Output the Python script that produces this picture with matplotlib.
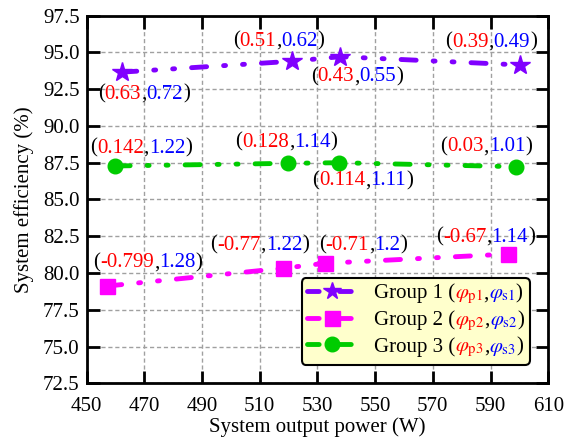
import matplotlib
matplotlib.use('Agg')
import numpy as np
import matplotlib.pyplot as plt
from matplotlib.lines import Line2D
from matplotlib.offsetbox import TextArea, HPacker, AnnotationBbox

plt.rcParams['font.family'] = ['Liberation Serif', 'DejaVu Serif']
plt.rcParams['mathtext.fontset'] = 'stix'

# ---------------- data ----------------
x_g1 = [462.2, 521.1, 537.8, 600.2]
y_g1 = [93.66, 94.40, 94.71, 94.15]
x_g2 = [457.0, 518.0, 532.6, 596.2]
y_g2 = [79.11, 80.32, 80.66, 81.29]
x_g3 = [459.9, 519.9, 537.6, 598.8]
y_g3 = [87.28, 87.46, 87.50, 87.23]

phi_p_g1 = ['0.63', '0.51', '0.43', '0.39']
phi_s_g1 = ['0.72', '0.62', '0.55', '0.49']
phi_p_g2 = ['-0.799', '-0.77', '-0.71', '-0.67']
phi_s_g2 = ['1.28', '1.22', '1.2', '1.14']
phi_p_g3 = ['0.142', '0.128', '0.114', '0.03']
phi_s_g3 = ['1.22', '1.14', '1.11', '1.01']

group_ids = ['1', '2', '3']
x_ticks = [450, 470, 490, 510, 530, 550, 570, 590, 610]
y_ticks = [72.5, 75.0, 77.5, 80.0, 82.5, 85.0, 87.5, 90.0, 92.5, 95.0, 97.5]

# label offsets (pixels) for annotations
off_g1 = [(22, -22), (-13, 20), (17, -20), (-29, 23)]
off_g2 = [(41, 23.5), (-23, 23), (38, 18), (-23, 17)]
off_g3 = [(26, 18), (-2, 21), (23, -18), (-30, 20)]

# ---------------- style ----------------
FS = 15
C1, C2, C3 = '#8000FF', '#FF00FF', '#00CC00'
RED, BLUE = '#FF0000', '#0000FF'
LW = 3.5
DASH = [3.1, 3.5, 0.4, 3.5, 0.4, 3.5]

fig = plt.figure(figsize=(5.79, 4.43), dpi=100)
ax = fig.add_axes([0.1494, 0.1348, 0.7976, 0.8298])

series = [
    (x_g1, y_g1, C1, '*', 15),
    (x_g2, y_g2, C2, 's', 10.8),
    (x_g3, y_g3, C3, 'o', 10.5),
]
for xs, ys, c, m, ms in series:
    ax.plot(xs, ys, color=c, lw=LW, dashes=DASH, dash_capstyle='round',
            marker=m, ms=ms, mec=c, mfc=c, zorder=3)


def annotate(x, y, p, s, off):
    tp = dict(fontsize=FS)
    parts = [TextArea('(', textprops=dict(color='k', **tp)),
             TextArea(p, textprops=dict(color=RED, **tp)),
             TextArea(',', textprops=dict(color='k', **tp)),
             TextArea(s, textprops=dict(color=BLUE, **tp)),
             TextArea(')', textprops=dict(color='k', **tp))]
    box = HPacker(children=parts, align='baseline', pad=0, sep=0)
    ab = AnnotationBbox(box, (x, y), xybox=off, xycoords='data',
                        boxcoords='offset pixels', frameon=False,
                        box_alignment=(0.5, 0.5), pad=0,
                        annotation_clip=False, zorder=4)
    ax.add_artist(ab)


for xs, ys, ps, ss, offs in [(x_g1, y_g1, phi_p_g1, phi_s_g1, off_g1),
                              (x_g2, y_g2, phi_p_g2, phi_s_g2, off_g2),
                              (x_g3, y_g3, phi_p_g3, phi_s_g3, off_g3)]:
    for x, y, p, s, o in zip(xs, ys, ps, ss, offs):
        annotate(x, y, p, s, o)

ax.set_xlim(450, 610)
ax.set_ylim(72.5, 97.5)
ax.set_xticks(x_ticks)
ax.set_yticks(y_ticks)
ax.set_yticklabels(['%.1f' % v for v in y_ticks])
ax.grid(True, color='#A0A0A0', linestyle=(0, (3, 2)), lw=1.0)
ax.set_axisbelow(True)
for sp in ax.spines.values():
    sp.set_linewidth(2)
ax.tick_params(direction='in', length=9, width=2, top=True, right=True,
               labelsize=FS)
ax.tick_params(axis='x', pad=10)
ax.tick_params(axis='y', pad=5)
ax.set_xlabel('System output power (W)', fontsize=FS, labelpad=1)
ax.set_ylabel('System efficiency (%)', fontsize=FS, labelpad=6)

# ---------------- legend ----------------
handles = []
for c, m, ms in [(C1, '*', 13), (C2, 's', 10.8), (C3, 'o', 10.5)]:
    handles.append(Line2D([], [], color=c, lw=LW, dashes=[2.4, 4.2],
                          dash_capstyle='round', marker=m, ms=ms, mec=c, mfc=c))
leg = ax.legend(handles=handles, labels=['Group %s (' % g for g in group_ids],
                loc='lower right', fontsize=FS, handlelength=2.4,
                handletextpad=0.8, labelspacing=0.2, borderpad=0.25,
                borderaxespad=0.9, fancybox=True, framealpha=1)
fr = leg.get_frame()
fr.set_facecolor('#FFFFCC')
fr.set_edgecolor('k')
fr.set_linewidth(1.5)

col = leg._legend_handle_box.get_children()[0]
for item, g in zip(col.get_children(), group_ids):
    tp = dict(fontsize=FS)
    parts = [TextArea('Group %s (' % g, textprops=dict(color='k', **tp)),
             TextArea(r'$\varphi_{\mathrm{p%s}}$' % g, textprops=dict(color=RED, **tp)),
             TextArea(',', textprops=dict(color='k', **tp)),
             TextArea(r'$\varphi_{\mathrm{s%s}}$' % g, textprops=dict(color=BLUE, **tp)),
             TextArea(')', textprops=dict(color='k', **tp))]
    hp = HPacker(children=parts, align='baseline', pad=0, sep=0)
    hp.set_figure(fig)
    item.get_children()[1] = hp

fig.savefig('out.png', dpi=100)
